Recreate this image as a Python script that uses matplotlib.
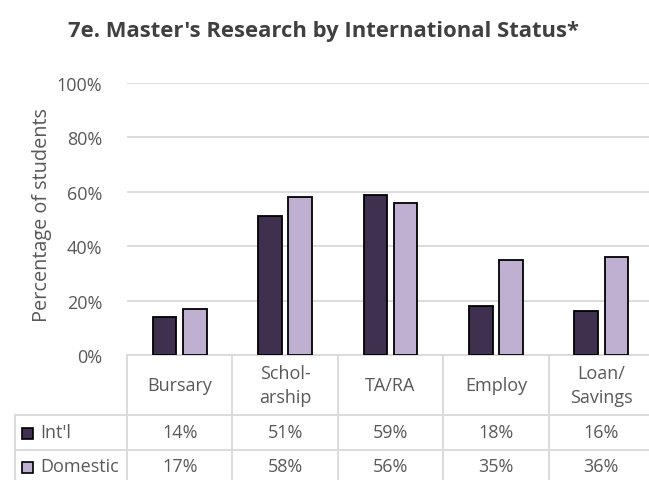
import matplotlib.pyplot as plt
import numpy as np
from matplotlib.patches import Rectangle

categories = ["Bursary", "Schol-\narship", "TA/RA", "Employ", "Loan/\nSavings"]
series_names = ["Int'l", "Domestic"]
intl = [14, 51, 59, 18, 16]
domestic = [17, 58, 56, 35, 36]
yticks = [0, 20, 40, 60, 80, 100]

colors = ["#40304f", "#bfb0d2"]
grid_c = "#d9d9d9"
text_c = "#595959"
W, H = 649, 481
FS = 13

plt.rcParams["font.family"] = ["Open Sans", "DejaVu Sans"]

fig = plt.figure(figsize=(W / 100, H / 100), dpi=100)
# plot area in pixels (table runs a little past the right edge, as in the original)
left, right, bottom, top = 127, 654, 356, 84
ax = fig.add_axes([left / W, 1 - bottom / H, (right - left) / W, (bottom - top) / H])

x = np.arange(len(categories))
bw = 0.225
off = 0.143
ax.bar(x - off, intl, bw, color=colors[0], edgecolor="black", linewidth=1.3, zorder=3)
ax.bar(x + off, domestic, bw, color=colors[1], edgecolor="black", linewidth=1.3, zorder=3)

ax.set_xlim(-0.5, len(categories) - 0.5)
ax.set_ylim(0, 100)
ax.set_yticks(yticks)
ax.set_yticklabels([f"{t}%" for t in yticks], fontsize=FS, color=text_c)
ax.set_xticks([])
ax.tick_params(axis="y", length=0, pad=18)
ax.yaxis.grid(True, color=grid_c, linewidth=1.3, zorder=0)
for s in ["top", "right", "left"]:
    ax.spines[s].set_visible(False)
ax.spines["bottom"].set_color(grid_c)
ax.spines["bottom"].set_linewidth(1.3)

fig.text(42 / W, 1 - 215 / H, "Percentage of students", rotation=90,
         ha="center", va="center", fontsize=14.3, color=text_c)
fig.text(324 / W, 1 - 37 / H, "7e. Master's Research by International Status*",
         ha="center", va="baseline", fontsize=15.8, fontweight="bold", color="#404040")

# data table drawn in figure pixels
def fx(px):
    return px / W

def fy(py):
    return 1 - py / H

col_w = (right - left) / len(categories)
row_y = [356, 416, 451, 484]
tbl_left = 15
lw = 1.3
for i in range(len(categories) + 1):
    xp = left + i * col_w
    fig.add_artist(plt.Line2D([fx(xp), fx(xp)], [fy(356), fy(481)], color=grid_c, lw=lw))
fig.add_artist(plt.Line2D([fx(tbl_left), fx(tbl_left)], [fy(416), fy(481)], color=grid_c, lw=lw))
for yp in [416, 451]:
    fig.add_artist(plt.Line2D([fx(tbl_left), fx(W)], [fy(yp), fy(yp)], color=grid_c, lw=lw))

for i, cat in enumerate(categories):
    cx = left + (i + 0.5) * col_w
    fig.text(fx(cx), fy((row_y[0] + row_y[1]) / 2), cat, ha="center", va="center",
             fontsize=FS, color=text_c, linespacing=1.4)
    for r, vals in enumerate([intl, domestic]):
        fig.text(fx(cx), fy((row_y[r + 1] + row_y[r + 2]) / 2), f"{vals[i]}%",
                 ha="center", va="center", fontsize=FS, color=text_c)

for r, name in enumerate(series_names):
    cy = (row_y[r + 1] + row_y[r + 2]) / 2
    fig.add_artist(Rectangle((fx(22), fy(cy + 6)), 11 / W, 11 / H, transform=fig.transFigure,
                             facecolor=colors[r], edgecolor="black", lw=1.2))
    fig.text(fx(40), fy(cy), name, ha="left", va="center", fontsize=FS, color=text_c)

fig.savefig("out.png", dpi=100)
